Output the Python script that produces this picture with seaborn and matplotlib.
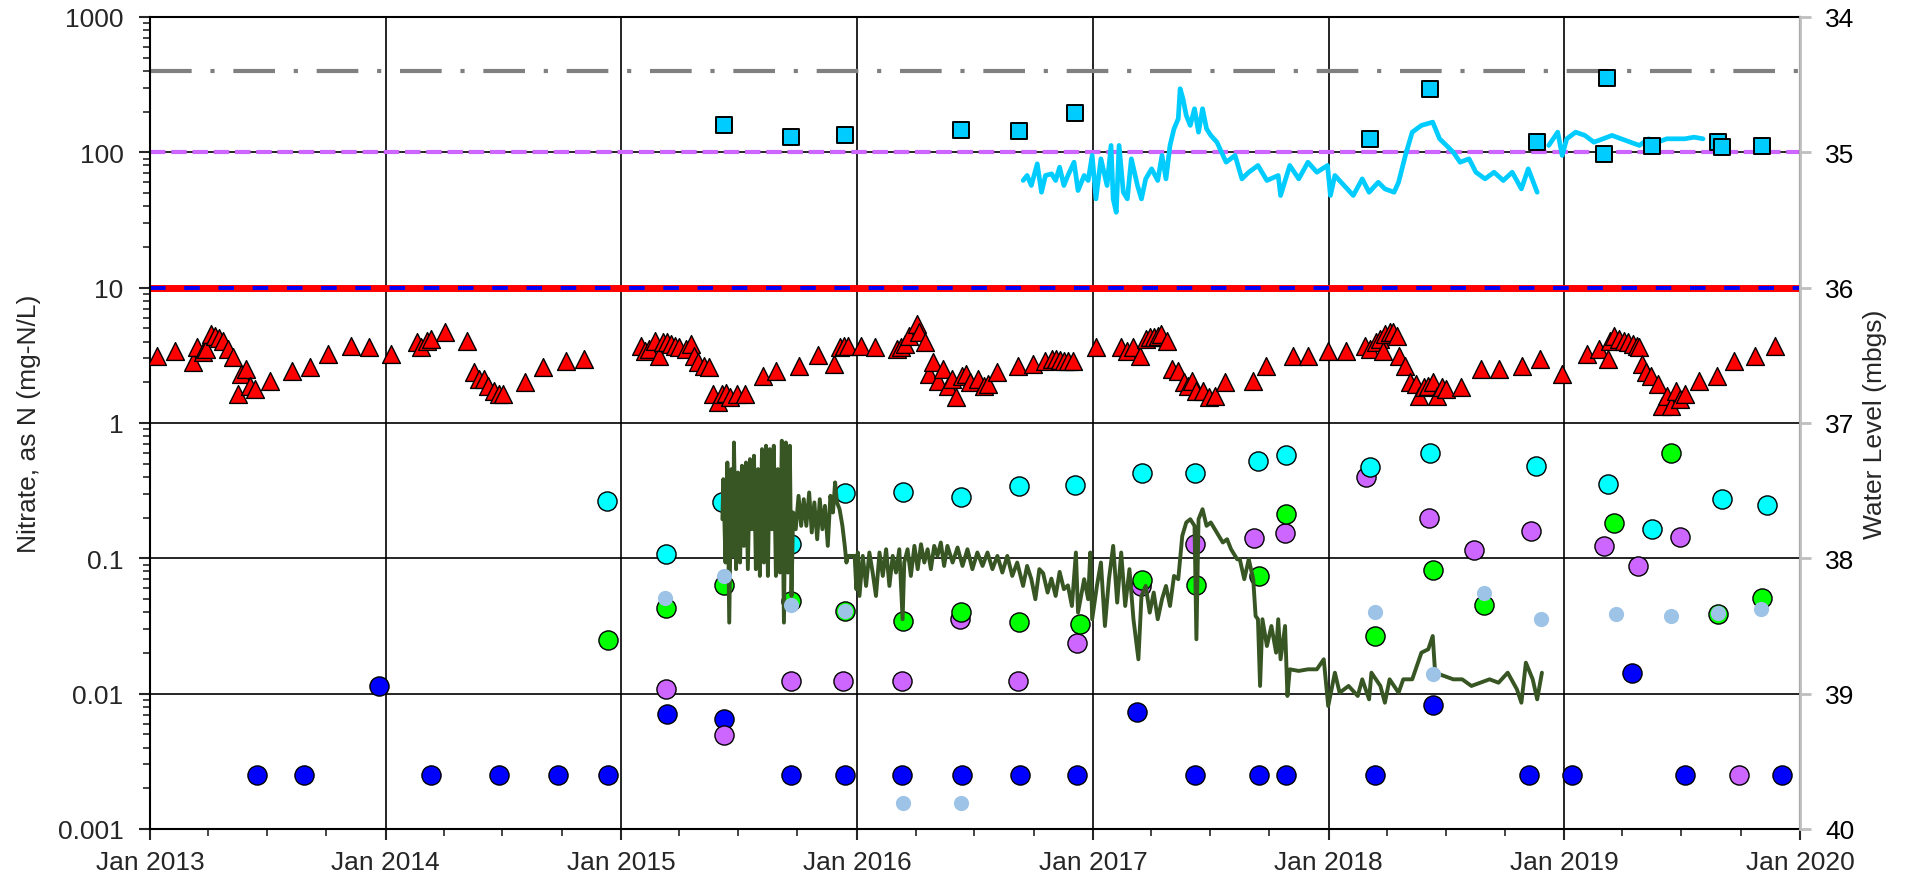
import numpy as np
import pandas as pd
import matplotlib
matplotlib.use('Agg')
import matplotlib.pyplot as plt
import matplotlib.dates as mdates
from matplotlib.ticker import LogLocator, FuncFormatter, NullFormatter, FixedLocator
import seaborn as sns

# ---- data (decimal years, values) ----
tri_yr = [2013.030, 2013.107, 2013.181, 2013.199, 2013.223, 2013.237, 2013.259, 2013.275, 2013.294, 2013.311,
          2013.331, 2013.354, 2013.375, 2013.388, 2013.409, 2013.426, 2013.447, 2013.507, 2013.602, 2013.677,
          2013.754, 2013.852, 2013.927, 2014.021, 2014.134, 2014.151, 2014.177, 2014.194, 2014.251, 2014.346,
          2014.375, 2014.396, 2014.418, 2014.436, 2014.461, 2014.479, 2014.499, 2014.591, 2014.668, 2014.763,
          2014.841,
          2015.084, 2015.101, 2015.118, 2015.144, 2015.161, 2015.178, 2015.196, 2015.213, 2015.230, 2015.247,
          2015.273, 2015.294, 2015.308, 2015.325, 2015.351, 2015.373, 2015.391, 2015.411, 2015.429, 2015.446,
          2015.463, 2015.489, 2015.523, 2015.601, 2015.658, 2015.753, 2015.834, 2015.903, 2015.929, 2015.946,
          2015.963, 2016.018, 2016.075, 2016.170, 2016.188, 2016.205, 2016.222, 2016.253, 2016.265, 2016.288,
          2016.305, 2016.322, 2016.343, 2016.365, 2016.386, 2016.403, 2016.420, 2016.446, 2016.464, 2016.481,
          2016.515, 2016.541, 2016.558, 2016.593, 2016.684, 2016.745, 2016.800, 2016.826, 2016.843, 2016.860,
          2016.878, 2016.895, 2016.917, 2017.012, 2017.119, 2017.145, 2017.171, 2017.197, 2017.223, 2017.240,
          2017.257, 2017.274, 2017.288, 2017.312, 2017.335, 2017.361, 2017.386, 2017.404, 2017.421, 2017.438,
          2017.464, 2017.490, 2017.516, 2017.559,
          2017.676, 2017.733, 2017.849, 2017.911, 2017.997, 2018.075, 2018.152, 2018.177, 2018.200, 2018.219,
          2018.229, 2018.238, 2018.258, 2018.273, 2018.291, 2018.296, 2018.325, 2018.345, 2018.370, 2018.383,
          2018.402, 2018.422, 2018.441, 2018.460, 2018.480, 2018.499, 2018.562, 2018.647, 2018.720, 2018.821,
          2018.894, 2018.990, 2019.096, 2019.145, 2019.183, 2019.193, 2019.212, 2019.231, 2019.251, 2019.270,
          2019.289, 2019.309, 2019.318, 2019.328, 2019.347, 2019.366, 2019.395, 2019.414, 2019.434, 2019.453,
          2019.472, 2019.492, 2019.511, 2019.569, 2019.646, 2019.719, 2019.810, 2019.893]
tri_val = [3.14, 3.42, 2.80, 3.62, 3.33, 3.52, 4.55, 4.37, 4.22, 4.06,
           3.52, 3.05, 1.64, 2.30, 2.51, 1.89, 1.78, 2.05, 2.41, 2.58,
           3.23, 3.73, 3.66, 3.23, 3.95, 3.62, 4.06, 4.18, 4.68, 4.06,
           2.37, 2.11, 2.11, 1.89, 1.73, 1.64, 1.64, 2.00, 2.58, 2.89,
           2.97,
           3.73, 3.42, 3.52, 4.06, 3.14, 3.95, 3.95, 3.84, 3.73, 3.62,
           3.52, 3.84, 3.14, 2.80, 2.65, 2.58, 1.64, 1.42, 1.64, 1.68,
           1.55, 1.64, 1.64, 2.24, 2.43, 2.65, 3.18, 2.73, 3.62, 3.73,
           3.73, 3.73, 3.62, 3.52, 3.62, 3.84, 4.42, 5.39, 4.68, 3.95,
           2.30, 2.80, 2.05, 2.51, 1.89, 2.11, 1.55, 2.24, 2.30, 2.00,
           2.11, 1.89, 1.94, 2.37, 2.65, 2.73, 2.89, 2.97, 2.97, 2.94,
           2.89, 2.89, 2.89, 3.62, 3.62, 3.42, 3.62, 3.14, 4.18, 4.30,
           4.30, 4.42, 4.55, 4.06, 2.51, 2.43, 2.00, 1.89, 2.05, 1.73,
           1.73, 1.55, 1.59, 2.00,
           2.05, 2.65, 3.14, 3.14, 3.42, 3.42, 3.73, 3.52, 3.95, 4.18,
           3.42, 4.55, 4.68, 4.68, 4.42, 3.14, 2.65, 2.00, 1.94, 1.59,
           1.83, 1.89, 2.00, 1.59, 1.83, 1.78, 1.83, 2.51, 2.51, 2.65,
           2.97, 2.30, 3.23, 3.52, 2.97, 4.06, 4.42, 4.18, 4.06, 3.95,
           3.84, 3.73, 3.62, 2.73, 2.37, 2.24, 1.94, 1.34, 1.59, 1.34,
           1.73, 1.50, 1.64, 2.05, 2.24, 2.89, 3.14, 3.73]

sq_yr = [2015.435, 2015.722, 2015.951, 2016.443, 2016.689, 2016.924, 2018.175, 2018.431, 2018.882,
         2019.181, 2019.170, 2019.372, 2019.650, 2019.669, 2019.837]
sq_val = [158, 129, 135, 147, 144, 195, 126, 295, 120, 356, 97.5, 112, 119, 109, 112]

cyan_yr = [2014.939, 2015.190, 2015.428, 2015.722, 2015.951, 2016.196, 2016.443, 2016.689, 2016.926, 2017.209,
           2017.433, 2017.699, 2017.818, 2018.175, 2018.431, 2018.881, 2019.183, 2019.370, 2019.669, 2019.858]
cyan_val = [0.263, 0.107, 0.262, 0.127, 0.303, 0.31, 0.286, 0.343, 0.346, 0.426,
            0.43, 0.526, 0.579, 0.475, 0.596, 0.483, 0.353, 0.164, 0.276, 0.247]

green_yr = [2014.942, 2015.190, 2015.437, 2015.718, 2015.950, 2016.196, 2016.443, 2016.689, 2016.946, 2017.209,
            2017.438, 2017.704, 2017.820, 2018.194, 2018.441, 2018.659, 2019.212, 2019.453, 2019.650, 2019.839]
green_val = [0.0248, 0.0432, 0.064, 0.0485, 0.041, 0.0344, 0.040, 0.0339, 0.0326, 0.069,
             0.064, 0.074, 0.214, 0.0267, 0.082, 0.045, 0.181, 0.605, 0.0386, 0.0505]

violet_yr = [2015.190, 2015.437, 2015.718, 2015.941, 2016.193, 2016.438, 2016.684, 2016.933, 2017.202, 2017.433,
             2017.683, 2017.814, 2018.157, 2018.427, 2018.614, 2018.859, 2019.170, 2019.314, 2019.492, 2019.742]
violet_val = [0.0109, 0.00492, 0.0124, 0.0124, 0.0124, 0.0355, 0.0124, 0.0238, 0.0625, 0.127,
              0.1425, 0.155, 0.40, 0.198, 0.115, 0.159, 0.124, 0.088, 0.144, 0.0025]

blue_yr = [2013.454, 2013.652, 2013.973, 2014.194, 2014.482, 2014.729, 2014.943, 2015.196, 2015.437, 2015.722,
           2015.951, 2016.193, 2016.446, 2016.693, 2016.933, 2017.185, 2017.433, 2017.704, 2017.820, 2018.194,
           2018.441, 2018.850, 2019.033, 2019.285, 2019.511, 2019.925]
blue_val = [0.0025, 0.0025, 0.0114, 0.0025, 0.0025, 0.0025, 0.0025, 0.0071, 0.00653, 0.0025,
            0.0025, 0.0025, 0.0025, 0.0025, 0.0025, 0.0073, 0.0025, 0.0025, 0.0025, 0.0025,
            0.0082, 0.0025, 0.0025, 0.0141, 0.0025, 0.0025]

lblue_yr = [2015.187, 2015.437, 2015.718, 2015.950, 2016.196, 2016.443, 2018.194, 2018.441, 2018.659, 2018.900,
            2019.218, 2019.453, 2019.650, 2019.835]
lblue_val = [0.0507, 0.074, 0.0455, 0.041, 0.00156, 0.00156, 0.0404, 0.0139, 0.0559, 0.0359,
             0.0387, 0.0375, 0.0397, 0.0425]

# water levels (mbgs), right axis
wl1_yr = [2016.705, 2016.722, 2016.740, 2016.765, 2016.783, 2016.800, 2016.826, 2016.843, 2016.860, 2016.878,
          2016.895, 2016.921, 2016.938, 2016.964, 2016.981, 2016.998, 2017.012, 2017.033, 2017.059, 2017.076,
          2017.085, 2017.098, 2017.110, 2017.128, 2017.145, 2017.162, 2017.188, 2017.205, 2017.223, 2017.248,
          2017.274, 2017.292, 2017.309, 2017.326, 2017.343, 2017.361, 2017.369, 2017.381, 2017.395, 2017.412,
          2017.430, 2017.447, 2017.464, 2017.481, 2017.499, 2017.525, 2017.564, 2017.602, 2017.631, 2017.660,
          2017.699, 2017.737, 2017.785, 2017.795, 2017.834, 2017.872, 2017.911, 2017.949, 2017.994, 2018.007,
          2018.026, 2018.065, 2018.104, 2018.142, 2018.171, 2018.210, 2018.238, 2018.277, 2018.296, 2018.325,
          2018.354, 2018.393, 2018.441, 2018.470, 2018.499, 2018.528, 2018.557, 2018.595, 2018.624, 2018.663,
          2018.701, 2018.740, 2018.778, 2018.817, 2018.846, 2018.884]
wl1_val = [35.208, 35.171, 35.245, 35.085, 35.295, 35.171, 35.159, 35.208, 35.110, 35.245,
           35.171, 35.073, 35.282, 35.171, 35.208, 35.023, 35.344, 35.048, 35.245, 34.949,
           35.344, 35.443, 34.949, 35.295, 35.344, 35.048, 35.245, 35.344, 35.196, 35.122,
           35.208, 35.023, 35.196, 34.949, 34.826, 34.752, 34.530, 34.604, 34.728, 34.801,
           34.678, 34.851, 34.678, 34.826, 34.875, 34.925, 35.073, 35.023, 35.196, 35.147,
           35.097, 35.208, 35.171, 35.319, 35.097, 35.196, 35.073, 35.147, 35.097, 35.319,
           35.171, 35.245, 35.319, 35.196, 35.295, 35.221, 35.270, 35.295, 35.221, 35.023,
           34.851, 34.801, 34.777, 34.900, 34.949, 34.999, 35.073, 35.048, 35.147, 35.196,
           35.147, 35.208, 35.147, 35.270, 35.122, 35.295]

wl2_yr = [2018.933, 2018.971, 2018.990, 2019.010, 2019.048, 2019.087, 2019.125, 2019.164, 2019.202, 2019.241,
          2019.280, 2019.318, 2019.357, 2019.395, 2019.434, 2019.472, 2019.511, 2019.550, 2019.588]
wl2_val = [34.949, 34.851, 35.023, 34.900, 34.851, 34.875, 34.925, 34.900, 34.875, 34.900,
           34.925, 34.949, 34.900, 34.925, 34.900, 34.900, 34.900, 34.888, 34.900]

wl3_yr = [2015.429, 2015.433, 2015.442, 2015.450, 2015.458, 2015.467, 2015.475, 2015.478, 2015.487, 2015.495,
          2015.504, 2015.512, 2015.520, 2015.529, 2015.537, 2015.546, 2015.554, 2015.563, 2015.571, 2015.580,
          2015.588, 2015.597, 2015.605, 2015.614, 2015.622, 2015.630, 2015.639, 2015.647, 2015.656, 2015.664,
          2015.673, 2015.681, 2015.690, 2015.698, 2015.707, 2015.715, 2015.722, 2015.729, 2015.740, 2015.752,
          2015.763, 2015.774, 2015.785, 2015.797, 2015.808, 2015.819, 2015.831, 2015.842, 2015.853, 2015.864,
          2015.876, 2015.887, 2015.898, 2015.907, 2015.915, 2015.926, 2015.938, 2015.948, 2015.955, 2015.962,
          2015.990, 2015.997, 2016.004, 2016.011, 2016.025, 2016.039, 2016.053, 2016.067, 2016.081, 2016.096,
          2016.110, 2016.124, 2016.138, 2016.152, 2016.166, 2016.180, 2016.194, 2016.201, 2016.215, 2016.229,
          2016.244, 2016.258, 2016.272, 2016.286, 2016.300, 2016.314, 2016.328, 2016.342, 2016.356, 2016.370,
          2016.384, 2016.406, 2016.427, 2016.448, 2016.469, 2016.490, 2016.511, 2016.533, 2016.554, 2016.575,
          2016.596, 2016.617, 2016.638, 2016.659, 2016.680, 2016.705, 2016.722, 2016.740, 2016.757, 2016.774,
          2016.790, 2016.809, 2016.825, 2016.843, 2016.860, 2016.878, 2016.895, 2016.912, 2016.929,
          2016.938, 2016.964, 2016.981, 2016.990, 2016.998, 2017.016, 2017.033, 2017.050, 2017.067, 2017.085,
          2017.102, 2017.119, 2017.136, 2017.154, 2017.171, 2017.192, 2017.205, 2017.223, 2017.240, 2017.257,
          2017.274, 2017.292, 2017.309, 2017.326, 2017.343, 2017.361, 2017.378, 2017.395, 2017.412, 2017.430,
          2017.438, 2017.447, 2017.464, 2017.481, 2017.499, 2017.516, 2017.533, 2017.550, 2017.568, 2017.585,
          2017.611, 2017.622, 2017.641, 2017.660, 2017.679, 2017.689, 2017.699, 2017.708, 2017.718, 2017.737,
          2017.756, 2017.776, 2017.785, 2017.795, 2017.814, 2017.824, 2017.834, 2017.872, 2017.911, 2017.949,
          2017.978, 2017.997, 2018.026, 2018.046, 2018.084, 2018.123, 2018.142, 2018.171, 2018.181, 2018.219,
          2018.238, 2018.258, 2018.296, 2018.316, 2018.354, 2018.393, 2018.422, 2018.441, 2018.451, 2018.489,
          2018.528, 2018.566, 2018.605, 2018.643, 2018.682, 2018.720, 2018.759, 2018.798, 2018.817, 2018.836,
          2018.865, 2018.884, 2018.904]
wl3_val = [37.711, 37.415, 38.031, 37.292, 38.475, 37.341, 37.982, 37.144, 38.080, 37.366,
           38.031, 37.316, 37.908, 37.292, 38.080, 37.267, 37.785, 37.242, 38.080, 37.341,
           38.130, 37.193, 38.031, 37.168, 38.130, 37.193, 37.785, 37.168, 38.130, 37.341,
           38.105, 37.131, 38.475, 37.144, 38.105, 37.168, 38.278, 37.661, 37.785, 37.538,
           37.760, 37.563, 37.760, 37.513, 37.809, 37.587, 37.859, 37.563, 37.785, 37.612,
           37.908, 37.538, 37.661, 37.439, 37.587, 37.637, 37.760, 37.908, 38.031, 37.982,
           37.982, 38.228, 37.957, 38.278, 37.982, 38.204, 37.957, 38.105, 38.278, 37.957,
           38.130, 37.933, 38.204, 37.982, 38.105, 37.933, 38.450, 38.031, 37.933, 38.130,
           37.908, 38.080, 37.896, 38.031, 37.933, 38.080, 37.908, 37.982, 37.883, 38.056,
           37.908, 38.031, 37.920, 38.056, 37.933, 38.080, 37.957, 38.056, 37.957, 38.080,
           37.982, 38.105, 37.982, 38.130, 38.031, 38.204, 38.056, 38.154, 38.302, 38.080,
           38.110, 38.253, 38.150, 38.278, 38.100, 38.228, 38.200, 38.352, 37.957,
           38.401, 38.154, 38.302, 37.957, 38.450, 38.204, 38.031, 38.500, 38.154, 37.908,
           38.327, 37.957, 38.352, 38.080, 38.450, 38.746, 38.278, 38.204, 38.401, 38.253,
           38.450, 38.302, 38.204, 38.352, 38.130, 38.154, 37.834, 37.735, 37.711, 37.760,
           38.598, 37.711, 37.637, 37.760, 37.735, 37.785, 37.834, 37.883, 37.859, 37.933,
           38.007, 38.007, 38.154, 38.007, 38.154, 38.426, 38.450, 38.943, 38.450, 38.648,
           38.500, 38.697, 38.450, 38.746, 38.500, 39.017, 38.820, 38.832, 38.820, 38.820,
           38.746, 39.091, 38.845, 38.993, 38.943, 39.017, 38.894, 39.042, 38.845, 38.943,
           39.067, 38.894, 38.993, 38.894, 38.894, 38.697, 38.672, 38.574, 38.845, 38.869,
           38.894, 38.894, 38.943, 38.919, 38.894, 38.919, 38.845, 38.968, 39.067, 38.771,
           38.894, 39.042, 38.845]


def to_dt(years):
    years = np.asarray(years, dtype=float)
    whole = np.floor(years).astype(int)
    base = pd.to_datetime(whole.astype(str), format='%Y')
    return base + pd.to_timedelta((years - whole) * 365.25, unit='D')


sns.set_style('ticks')
plt.rcParams['font.family'] = ['Liberation Sans', 'DejaVu Sans']
plt.rcParams['font.size'] = 19

x0, x1 = pd.Timestamp('2013-01-01'), pd.Timestamp('2020-01-01')

fig = plt.figure(figsize=(19.15, 8.78), dpi=100)
ax = fig.add_axes([0.07833, 0.05467, 0.86162, 0.92483])

# reference lines
ax.axhline(400, color='#808080', lw=3, ls=(0, (10, 4.5, 1, 4.5)), zorder=2)
ax.axhline(100, color='#CC66FF', lw=3, ls=(0, (3.7, 1.4)), zorder=2)
ax.axhline(10, color='#FF0000', lw=5, zorder=2)
ax.axhline(10, color='#0000FF', lw=2.8, ls=(0, (4, 4.8)), zorder=2)

sns.scatterplot(x=to_dt(tri_yr), y=tri_val, marker='^', s=165, color='#FF0000',
                edgecolor='black', linewidth=1, ax=ax, zorder=4)
sns.scatterplot(x=to_dt(blue_yr), y=blue_val, marker='o', s=190, color='#0000FF',
                edgecolor='black', linewidth=1, ax=ax, zorder=4)
sns.scatterplot(x=to_dt(violet_yr), y=violet_val, marker='o', s=190, color='#CC66FF',
                edgecolor='black', linewidth=1, ax=ax, zorder=4)
sns.scatterplot(x=to_dt(green_yr), y=green_val, marker='o', s=190, color='#00FF00',
                edgecolor='black', linewidth=1, ax=ax, zorder=4)
sns.scatterplot(x=to_dt(cyan_yr), y=cyan_val, marker='o', s=190, color='#00FFFF',
                edgecolor='black', linewidth=1, ax=ax, zorder=4)

ax.set_yscale('log')
ax.set_ylim(0.001, 1000)
ax.set_xlim(x0, x1)
ax.yaxis.set_major_locator(FixedLocator([0.001, 0.01, 0.1, 1, 10, 100, 1000]))
ax.yaxis.set_major_formatter(FuncFormatter(lambda v, _: f'{v:g}'))
ax.yaxis.set_minor_locator(LogLocator(base=10, subs=np.arange(2, 10)))
ax.yaxis.set_minor_formatter(NullFormatter())
ax.xaxis.set_major_locator(mdates.YearLocator())
ax.xaxis.set_major_formatter(mdates.DateFormatter('%b %Y'))
ax.xaxis.set_minor_locator(mdates.MonthLocator(bymonth=[4, 7, 10]))
ax.grid(which='major', color='black', lw=1.2, zorder=1)
ax.set_axisbelow(True)
for s in ax.spines.values():
    s.set_color('black')
    s.set_linewidth(1.5)
ax.tick_params(axis='both', which='major', direction='out', length=8, width=1.5, labelsize=19)
ax.tick_params(axis='both', which='minor', direction='out', length=5, width=1.2)
ax.tick_params(axis='y', which='major', pad=11)
ax.tick_params(axis='x', which='major', pad=7)
ax.set_xlabel('')
ax.set_ylabel('Nitrate, as N (mg-N/L)', fontsize=19)
ax.yaxis.set_label_coords(-0.066, 0.5)

# water level axis
ax2 = ax.twinx()
sns.lineplot(x=to_dt(wl3_yr), y=wl3_val, color='#375623', lw=2.8, estimator=None, sort=False, ax=ax2)
sns.lineplot(x=to_dt(wl1_yr), y=wl1_val, color='#00CCFF', lw=3.4, estimator=None, sort=False, ax=ax2)
sns.lineplot(x=to_dt(wl2_yr), y=wl2_val, color='#00CCFF', lw=3.4, estimator=None, sort=False, ax=ax2)
ax2.set_ylim(40, 34)
ax2.set_yticks([34, 35, 36, 37, 38, 39, 40])
ax2.set_xlim(x0, x1)
for k in ['top', 'left', 'bottom']:
    ax2.spines[k].set_visible(False)
ax2.spines['right'].set_color('#BFBFBF')
ax2.spines['right'].set_linewidth(2)
ax2.tick_params(axis='y', which='major', direction='out', length=8, width=2, color='#BFBFBF',
                labelcolor='black', labelsize=19, pad=10)
ax2.set_ylabel('Water Level (mbgs)', fontsize=19)
ax2.yaxis.set_label_coords(1.038, 0.5)

# series drawn over the water-level lines
ax3 = ax.twinx()
ax3.set_yscale('log')
sns.scatterplot(x=to_dt(sq_yr), y=sq_val, marker='s', s=140, color='#00CCFF',
                edgecolor='black', linewidth=1.4, ax=ax3, zorder=4)
sns.scatterplot(x=to_dt(lblue_yr), y=lblue_val, marker='o', s=120, color='#9DC3E6',
                linewidth=0, ax=ax3, zorder=4)
ax3.set_ylim(0.001, 1000)
ax3.set_xlim(x0, x1)
ax3.axis('off')

fig.savefig('out.png', dpi=100)
